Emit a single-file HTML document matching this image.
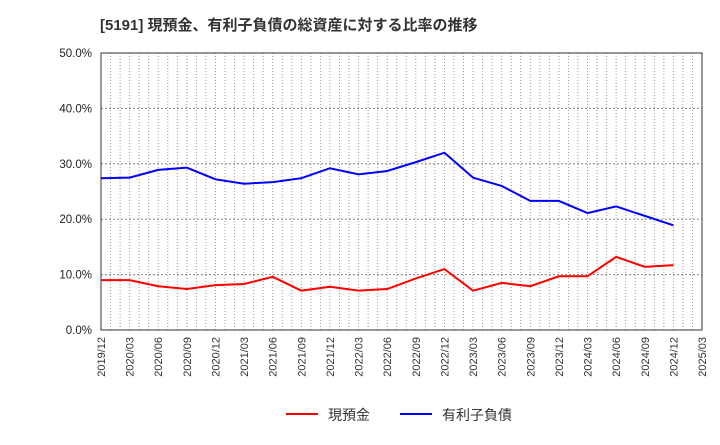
<!DOCTYPE html>
<html><head><meta charset="utf-8"><style>
body{margin:0;background:#fff;font-family:"Liberation Sans","Noto Sans CJK JP",sans-serif;}
</style></head><body>
<svg width="720" height="440" xmlns="http://www.w3.org/2000/svg">
<text x="100" y="30" font-size="15" font-weight="bold" fill="#333">[5191]  現預金、有利子負債の総資産に対する比率の推移</text>
<g id="grid"></g>
<rect x="101" y="53" width="601" height="277" fill="none" stroke="#333"/>
<g id="yax"></g><g id="xax"></g><g id="series"></g>
<g>
<line x1="286" y1="414" x2="318" y2="414" stroke="#f00" stroke-width="2"/>
<text x="328" y="420" font-size="14" fill="#333">現預金</text>
<line x1="400" y1="414" x2="432" y2="414" stroke="#00f" stroke-width="2"/>
<text x="442" y="420" font-size="14" fill="#333">有利子負債</text>
</g>
</svg>
<script>
const categories=["2019/12","2020/03","2020/06","2020/09","2020/12","2021/03","2021/06","2021/09","2021/12","2022/03","2022/06","2022/09","2022/12","2023/03","2023/06","2023/09","2023/12","2024/03","2024/06","2024/09","2024/12","2025/03"];
const cash=[9.0,9.0,7.9,7.4,8.1,8.3,9.6,7.1,7.8,7.1,7.4,9.3,11.0,7.1,8.5,7.9,9.7,9.7,13.2,11.4,11.7];
const debt=[27.4,27.5,28.9,29.3,27.2,26.4,26.7,27.4,29.2,28.1,28.7,30.3,32.0,27.5,26.0,23.3,23.3,21.1,22.3,20.6,18.9];
const yTicks=[0,10,20,30,40,50];
const NS="http://www.w3.org/2000/svg";
const X0=101,X1=702,Y0=330,Y1=53;
const xs=i=>X0+i*(X1-X0)/(categories.length-1);
const ys=v=>Y0-(v/50)*(Y0-Y1);
function mk(t,a,p){const e=document.createElementNS(NS,t);for(const k in a)e.setAttribute(k,a[k]);p.appendChild(e);return e;}
const grid=document.getElementById('grid'),yax=document.getElementById('yax'),xax=document.getElementById('xax'),ser=document.getElementById('series');
for(let m=1;m<(categories.length-1)*3;m++){const x=X0+m*(X1-X0)/((categories.length-1)*3);
const l=mk('line',{x1:x,y1:Y1,x2:x,y2:Y0,stroke:'#999','stroke-dasharray':'1,2'},grid);

}
yTicks.forEach(v=>{const y=ys(v);
if(v>0&&v<50){const g=mk('line',{x1:X0,y1:y,x2:X1,y2:y,stroke:'#888','stroke-dasharray':'2,2'},grid);

}
const t=mk('text',{x:92,y:y+4,'font-size':11.5,fill:'#222','text-anchor':'end'},yax);t.textContent=v.toFixed(1)+'%';

});
categories.forEach((c,i)=>{const x=xs(i);
const t=mk('text',{x:x+4,y:337,'font-size':11,fill:'#333','text-anchor':'end',transform:`rotate(-90 ${x+4} 337)`},xax);t.textContent=c;

});
function line(d,col,name){const p=mk('polyline',{points:d.map((v,i)=>xs(i)+','+ys(v)).join(' '),fill:'none',stroke:col,'stroke-width':2},ser);

}
line(cash,'#f00','cash-line');
line(debt,'#00f','debt-line');
</script>
</body></html>
